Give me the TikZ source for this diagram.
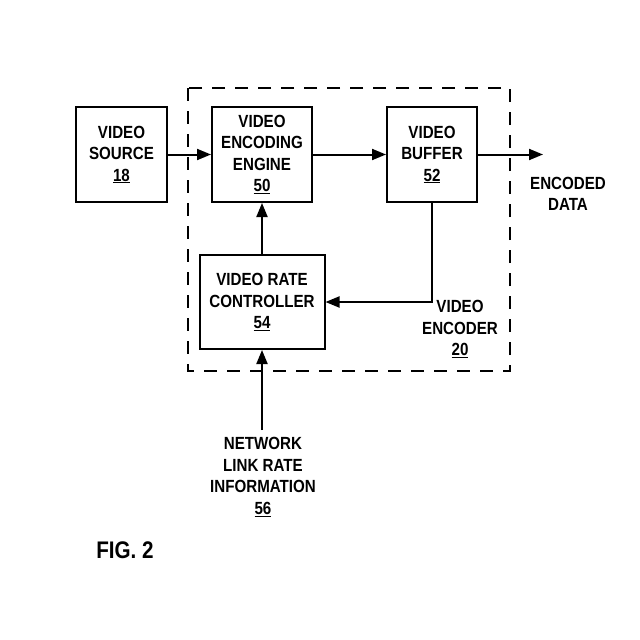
\documentclass[tikz,border=0pt]{standalone}
\usepackage{fontspec}
\setmainfont{Liberation Sans}[FakeStretch=0.86]
\usetikzlibrary{arrows.meta}
\tikzset{
  blk/.style={draw, line width=2pt, align=center, inner sep=0pt, font=\fontsize{17.6}{21.5}\selectfont\bfseries},
  lbl/.style={align=center, inner sep=0pt, font=\fontsize{17.6}{21.5}\selectfont\bfseries},
  conn/.style={line width=2pt, -{Triangle[length=14pt,width=11pt]}},
  encbox/.style={draw, line width=2pt, dash pattern=on 13pt off 10pt}
}
\newcommand{\ul}[1]{\underline{#1}}
\begin{document}
\begin{tikzpicture}[x=1pt,y=-1pt]
\useasboundingbox (0,0) rectangle (640,640);
\draw[encbox] (188,88) rectangle (510,371);
\node[blk, minimum width=91pt, minimum height=95pt] (src) at (121.5,154.5) {VIDEO\\SOURCE\\\ul{18}};
\node[blk, minimum width=100pt, minimum height=95pt] (eng) at (262,154.5) {VIDEO\\ENCODING\\ENGINE\\\ul{50}};
\node[blk, minimum width=90pt, minimum height=95pt] (buf) at (432,154.5) {VIDEO\\BUFFER\\\ul{52}};
\node[blk, minimum width=125pt, minimum height=94pt] (ctl) at (262,302) {VIDEO RATE\\CONTROLLER\\\ul{54}};
\node[lbl] (enc) at (460,329) {VIDEO\\ENCODER\\\ul{20}};
\node[lbl] (dat) at (568,194) {ENCODED\\DATA};
\node[lbl] (net) at (263,477) {NETWORK\\LINK RATE\\INFORMATION\\\ul{56}};
\node[lbl, font=\fontsize{24}{28}\selectfont\bfseries] (fig) at (125,550) {FIG. 2};
\coordinate (out) at (543,154.5);
\coordinate (netTop) at (262,430);
\draw[conn] (src) -- (eng);
\draw[conn] (eng) -- (buf);
\draw[conn] (buf) -- (out);
\draw[conn] (ctl.north) -- (eng.south);
\draw[conn] (buf.south) |- (ctl.east);
\draw[conn] (netTop) -- (ctl.south);
\end{tikzpicture}
\end{document}
